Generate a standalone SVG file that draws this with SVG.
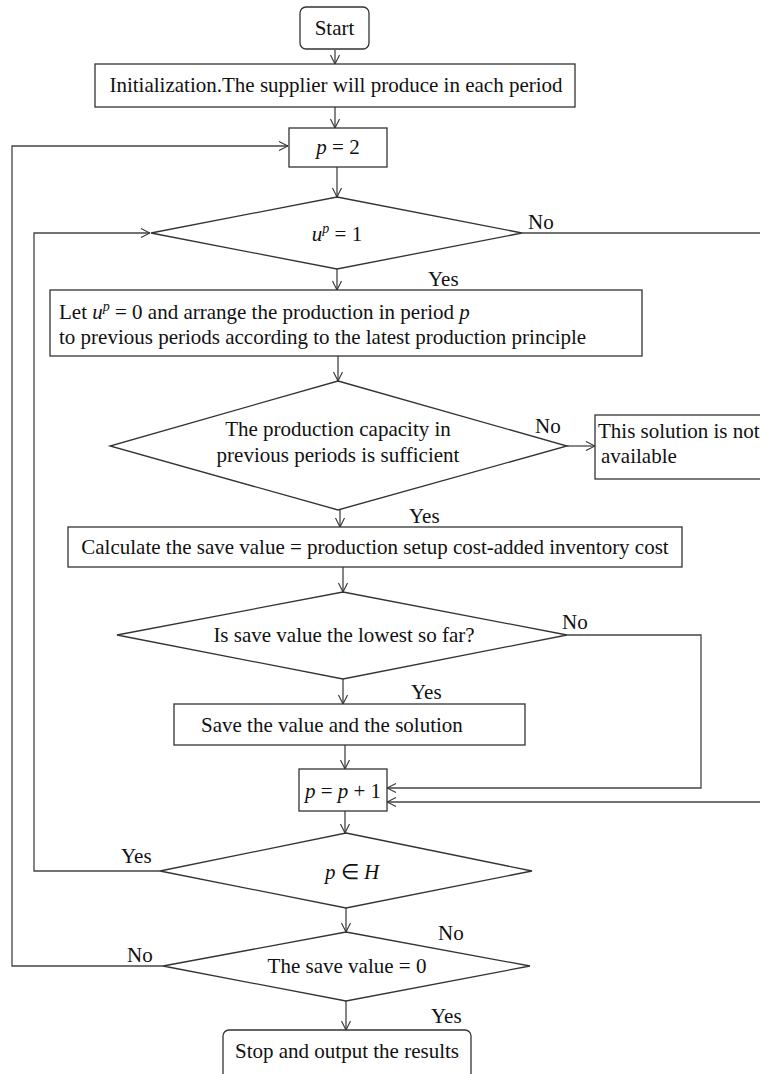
<svg xmlns="http://www.w3.org/2000/svg" width="760" height="1074" viewBox="0 0 760 1074">
<style>
.s{fill:#fff;stroke:#333;stroke-width:1.3}
.c{fill:none;stroke:#444;stroke-width:1.3}
text{font-family:"Liberation Serif","Times New Roman",serif;font-size:21px;fill:#111}
.m{text-anchor:middle}
.i{font-style:italic}
</style>
<defs>
<marker id="a" viewBox="0 0 10 10" refX="10" refY="5" markerWidth="10" markerHeight="10" markerUnits="userSpaceOnUse" orient="auto">
<path d="M1,0.5 L10,5 L1,9.5" fill="none" stroke="#333" stroke-width="1.1"/>
</marker>
</defs>
<g id="connectors">
<path class="c" d="M335,50 V64" marker-end="url(#a)"/>
<path class="c" d="M335,107 V128" marker-end="url(#a)"/>
<path class="c" d="M337,167 V197" marker-end="url(#a)"/>
<path class="c" d="M337,269 V290" marker-end="url(#a)"/>
<path class="c" d="M338,356 V381" marker-end="url(#a)"/>
<path class="c" d="M567,446 H595" marker-end="url(#a)"/>
<path class="c" d="M340,510 V527" marker-end="url(#a)"/>
<path class="c" d="M343,567 V592" marker-end="url(#a)"/>
<path class="c" d="M343,679 V704" marker-end="url(#a)"/>
<path class="c" d="M345,745 V769" marker-end="url(#a)"/>
<path class="c" d="M345,811 V833" marker-end="url(#a)"/>
<path class="c" d="M346,908 V932" marker-end="url(#a)"/>
<path class="c" d="M346,1001 V1030" marker-end="url(#a)"/>
<path class="c" d="M522,233 H762"/>
<path class="c" d="M567,635 H701 V788 H387" marker-end="url(#a)"/>
<path class="c" d="M762,802 H387" marker-end="url(#a)"/>
<path class="c" d="M160,871 H34 V233 H150" marker-end="url(#a)"/>
<path class="c" d="M163,966 H12 V146 H288" marker-end="url(#a)"/>
<text x="528" y="229">No</text>
<text x="428" y="286">Yes</text>
<text x="535" y="433">No</text>
<text x="409" y="523">Yes</text>
<text x="562" y="629">No</text>
<text x="411" y="699">Yes</text>
<text x="121" y="863">Yes</text>
<text x="438" y="940">No</text>
<text x="127" y="962">No</text>
<text x="431" y="1023">Yes</text>
</g>
<g id="start">
<rect class="s" x="300" y="7" width="69" height="42" rx="6"/>
<text class="m" x="334.5" y="35">Start</text>
</g>
<g id="init">
<rect class="s" x="95" y="64" width="480" height="43"/>
<text class="m" x="336" y="92">Initialization.The supplier will produce in each period</text>
</g>
<g id="p2">
<rect class="s" x="289" y="128" width="98" height="39"/>
<text class="m" x="338" y="154"><tspan class="i">p</tspan> = 2</text>
</g>
<g id="d1">
<polygon class="s" points="337,197 522,233 337,269 151,233"/>
<text class="m" x="337" y="241"><tspan class="i">u</tspan><tspan class="i" font-size="14" dy="-8">p</tspan><tspan dy="8"> = 1</tspan></text>
</g>
<g id="arrange">
<rect class="s" x="50" y="290" width="592" height="66"/>
<text x="59" y="319">Let <tspan class="i">u</tspan><tspan class="i" font-size="14" dy="-8">p</tspan><tspan dy="8"> = 0 and arrange the production in period </tspan><tspan class="i">p</tspan></text>
<text x="59" y="344">to previous periods according to the latest production principle</text>
</g>
<g id="d2">
<polygon class="s" points="338,381 567,446 338,510 110,446"/>
<text class="m" x="338" y="436">The production capacity in</text>
<text class="m" x="338" y="462">previous periods is sufficient</text>
</g>
<g id="na">
<rect class="s" x="595" y="415" width="172" height="64"/>
<text x="598" y="438">This solution is not</text>
<text x="601" y="463">available</text>
</g>
<g id="calc">
<rect class="s" x="68" y="527" width="614" height="40"/>
<text class="m" x="375" y="554">Calculate the save value = production setup cost-added inventory cost</text>
</g>
<g id="d3">
<polygon class="s" points="343,592 567,635 343,679 117,635"/>
<text class="m" x="344" y="642">Is save value the lowest so far?</text>
</g>
<g id="savebox">
<rect class="s" x="174" y="704" width="351" height="41"/>
<text x="201" y="732">Save the value and the solution</text>
</g>
<g id="pinc">
<rect class="s" x="299" y="769" width="88" height="42"/>
<text class="m" x="343" y="798"><tspan class="i">p</tspan> = <tspan class="i">p</tspan> + 1</text>
</g>
<g id="d4">
<polygon class="s" points="346,833 532,871 346,908 160,871"/>
<text class="m" x="352" y="879"><tspan class="i">p</tspan> ∈ <tspan class="i">H</tspan></text>
</g>
<g id="d5">
<polygon class="s" points="346,932 530,966 346,1001 163,966"/>
<text class="m" x="347" y="973">The save value = 0</text>
</g>
<g id="stop">
<rect class="s" x="223" y="1030" width="248" height="50" rx="6"/>
<text class="m" x="347" y="1058">Stop and output the results</text>
</g>
</svg>
